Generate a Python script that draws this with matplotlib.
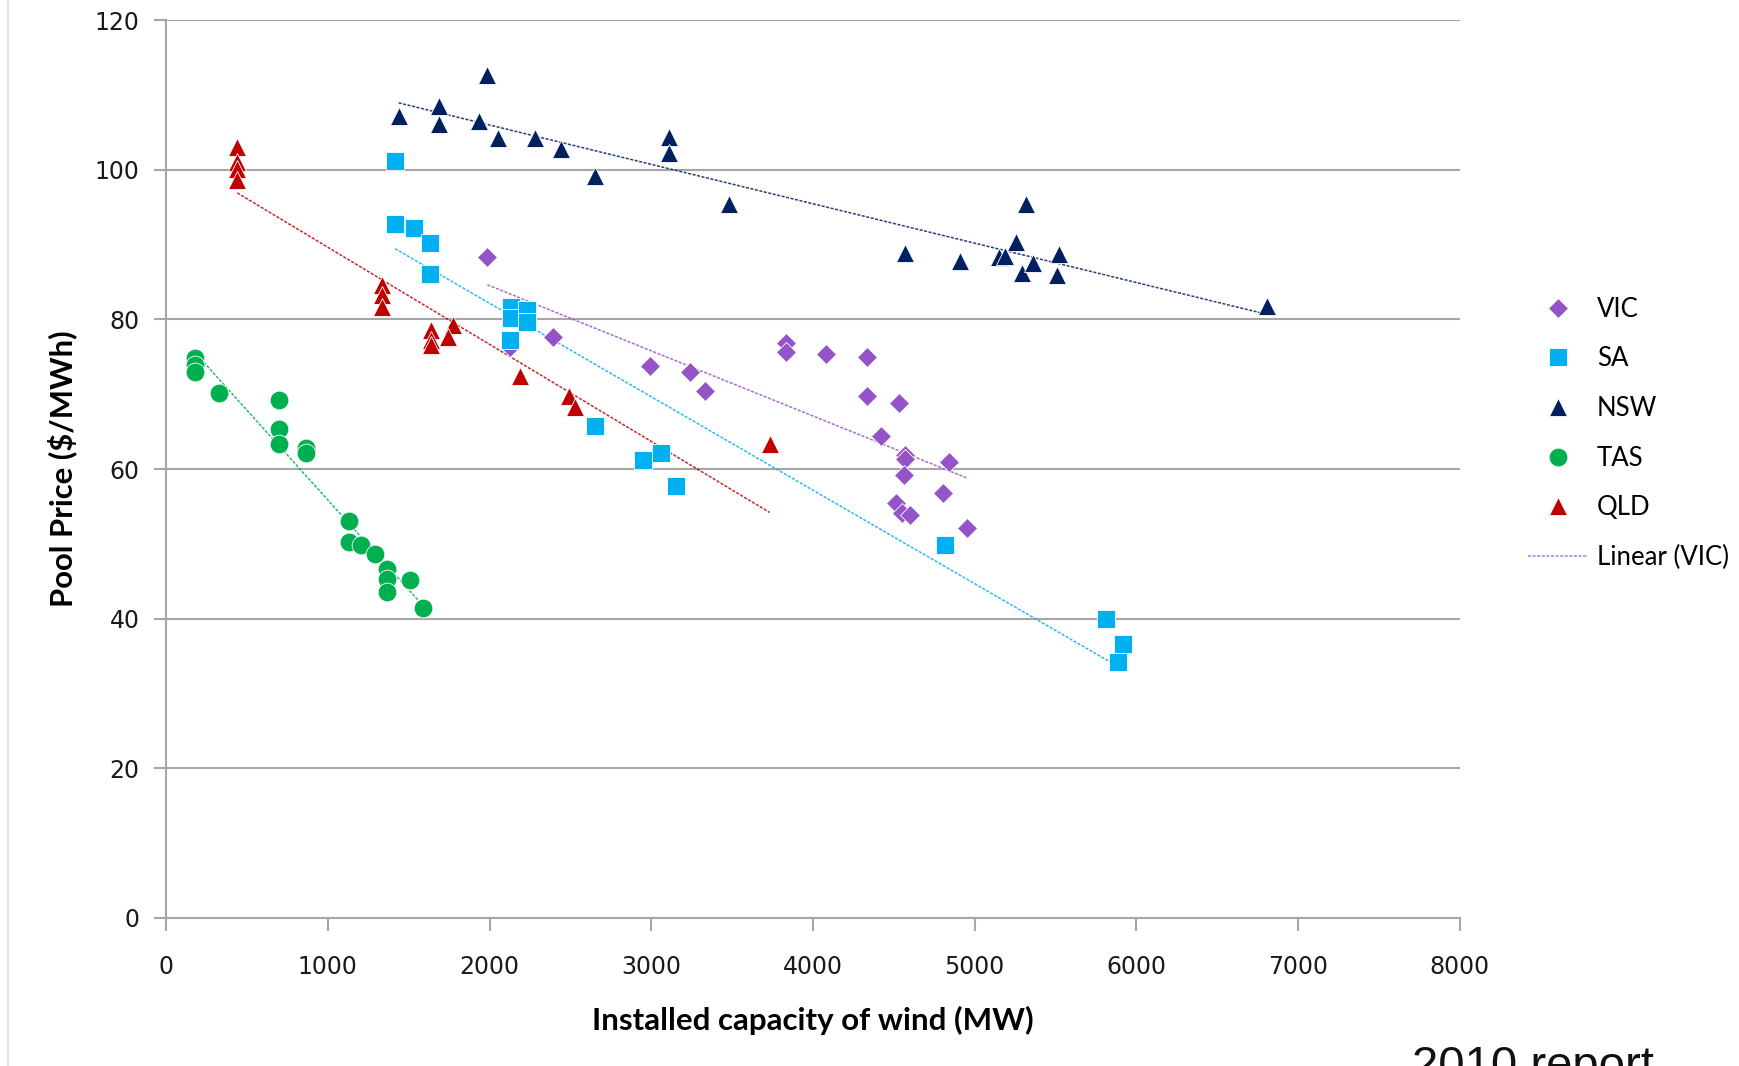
import matplotlib.pyplot as plt
import numpy as np
from matplotlib.lines import Line2D

# --- data ---
vic_x = [1987, 2124, 2390, 2991, 3237, 3330, 3831, 3831, 4081, 4333, 4333, 4532, 4423,
         4571, 4571, 4844, 4565, 4806, 4515, 4549, 4597, 4951]
vic_y = [88.4, 76.3, 77.6, 73.8, 73.0, 70.5, 76.8, 75.7, 75.4, 75.0, 69.8, 68.8, 64.4,
         61.9, 61.3, 61.0, 59.2, 56.8, 55.5, 54.1, 53.9, 52.1]

sa_x = [1416, 1416, 1532, 1632, 1632, 2134, 2134, 2231, 2231, 2126, 2654, 2950, 3060,
        3152, 4816, 5811, 5914, 5887]
sa_y = [101.2, 92.7, 92.2, 90.2, 86.1, 81.7, 80.2, 81.2, 79.7, 77.3, 65.8, 61.2, 62.1,
        57.7, 49.8, 40.0, 36.6, 34.2]

nsw_x = [1438, 1689, 1689, 1987, 1937, 2053, 2283, 2439, 2655, 3109, 3109, 3480, 4572,
         4906, 5149, 5190, 5257, 5317, 5290, 5359, 5506, 5520, 6806]
nsw_y = [107.2, 108.5, 106.1, 112.7, 106.5, 104.3, 104.3, 102.8, 99.2, 104.4, 102.3, 95.4,
         88.9, 87.8, 88.4, 88.5, 90.4, 95.4, 86.2, 87.6, 86.0, 88.7, 81.8]

tas_x = [177, 177, 177, 328, 697, 697, 697, 868, 868, 1128, 1128, 1206, 1289, 1369, 1369,
         1369, 1509, 1590]
tas_y = [74.8, 73.9, 73.0, 70.1, 69.2, 65.3, 63.3, 62.8, 62.1, 53.0, 50.2, 49.8, 48.7,
         46.6, 45.3, 43.6, 45.1, 41.4]

qld_x = [440, 440, 440, 440, 1336, 1336, 1336, 1639, 1639, 1639, 1774, 1745, 2188, 2489,
         2528, 3732]
qld_y = [103.0, 101.0, 100.1, 98.7, 84.6, 83.3, 81.7, 78.6, 77.3, 76.6, 79.2, 77.7, 72.5,
         69.8, 68.3, 63.4]

x_ticks = [0, 1000, 2000, 3000, 4000, 5000, 6000, 7000, 8000]
y_ticks = [0, 20, 40, 60, 80, 100, 120]

series = [
    ("VIC", vic_x, vic_y, "D", "#9553C9", 10.5),
    ("SA", sa_x, sa_y, "s", "#00B0F0", 13),
    ("NSW", nsw_x, nsw_y, "^", "#002060", 13),
    ("TAS", tas_x, tas_y, "o", "#00B050", 13.5),
    ("QLD", qld_x, qld_y, "^", "#C00000", 13),
]

fig = plt.figure(figsize=(17.39, 10.66), dpi=100)
ax = fig.add_axes([0.0955, 0.139, 0.744, 0.842])

handles = []
for name, xs, ys, mk, col, ms in series:
    h, = ax.plot(xs, ys, linestyle="none", marker=mk, markersize=ms, color=col,
                 markeredgecolor="white", markeredgewidth=0.6, zorder=3, label=name)
    handles.append(h)
    # excel style linear trendline
    k, b = np.polyfit(xs, ys, 1)
    xx = np.array([min(xs), max(xs)])
    ax.plot(xx, k * xx + b, linestyle=(0, (2, 1)), linewidth=1.1, color=col,
            alpha=0.85, zorder=2)

handles.append(Line2D([], [], linestyle=(0, (2, 1)), linewidth=1.1, color="#B07FE0"))

ax.set_xlim(0, 8000)
ax.set_ylim(0, 120)
ax.set_xticks(x_ticks)
ax.set_yticks(y_ticks)
ax.grid(axis="y", color="#A6A6A6", linewidth=1.5)
ax.set_axisbelow(True)
for s in ["top", "right"]:
    ax.spines[s].set_visible(False)
for s in ["left", "bottom"]:
    ax.spines[s].set_color("#A6A6A6")
    ax.spines[s].set_linewidth(1.5)
ax.tick_params(axis="both", colors="#A6A6A6", width=1.5, length=9, labelcolor="#1a1a1a",
               labelsize=17)
ax.tick_params(axis="x", pad=18)
ax.tick_params(axis="y", pad=10)

ax.set_xlabel("Installed capacity of wind (MW)", fontsize=22.5, fontweight="bold",
              family=["Lato", "DejaVu Sans"], labelpad=19)
ax.set_ylabel("Pool Price ($/MWh)", fontsize=22.3, fontweight="bold",
              family=["Liberation Sans Narrow", "Lato", "DejaVu Sans"], labelpad=13)

fig.legend(handles, ["VIC", "SA", "NSW", "TAS", "QLD", "Linear (VIC)"],
           loc="upper left", bbox_to_anchor=(0.873, 0.7313), frameon=False,
           prop={"family": ["Lato", "DejaVu Sans"], "size": 18.5},
           handlelength=2.3, handletextpad=0.37, labelspacing=0.96,
           borderaxespad=0)

# slide remnants: thin border on the left and the caption cut by the bottom edge
fig.add_artist(Line2D([0.0045, 0.0045], [0, 1], transform=fig.transFigure,
                      color="#D9D9D9", linewidth=1.2))
fig.text(0.812, -0.0125, "2010 report", fontsize=34, family="Liberation Sans",
         color="#111111", va="baseline", ha="left")

fig.savefig("out.png", dpi=100)
